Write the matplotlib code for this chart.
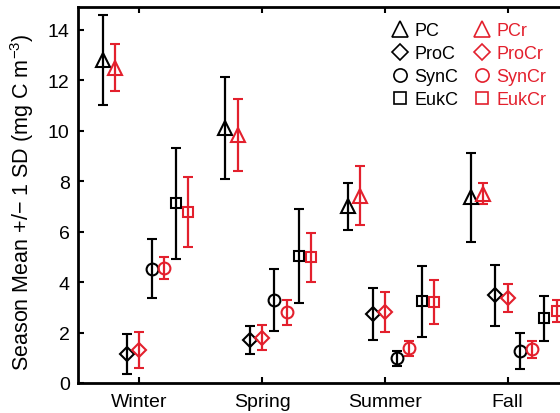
import numpy as np
import matplotlib
matplotlib.use('Agg')
import matplotlib.pyplot as plt
from matplotlib.lines import Line2D

plt.rcParams['font.family'] = ['Liberation Sans', 'DejaVu Sans']
plt.rcParams['mathtext.fontset'] = 'custom'
plt.rcParams['mathtext.rm'] = 'Liberation Sans'
plt.rcParams['mathtext.it'] = 'Liberation Sans'

seasons = ['Winter', 'Spring', 'Summer', 'Fall']

# season means and standard deviations (mg C m-3)
pc_mean = [12.8, 10.1, 7.0, 7.36]
pc_sd = [1.77, 2.02, 0.93, 1.76]
pcr_mean = [12.5, 9.84, 7.43, 7.5]
pcr_sd = [0.93, 1.43, 1.15, 0.42]

proc_mean = [1.15, 1.7, 2.75, 3.48]
proc_sd = [0.78, 0.56, 1.03, 1.21]
procr_mean = [1.3, 1.8, 2.8, 3.38]
procr_sd = [0.72, 0.48, 0.79, 0.55]

sync_mean = [4.53, 3.3, 0.98, 1.27]
sync_sd = [1.18, 1.22, 0.3, 0.73]
syncr_mean = [4.56, 2.8, 1.37, 1.33]
syncr_sd = [0.43, 0.5, 0.3, 0.35]

eukc_mean = [7.12, 5.04, 3.23, 2.57]
eukc_sd = [2.21, 1.85, 1.39, 0.89]
eukcr_mean = [6.78, 4.98, 3.22, 2.85]
eukcr_sd = [1.4, 0.96, 0.88, 0.42]

red = '#e3202d'
x = np.arange(1, 5)

# name, means, sds, x offset, marker, colour, marker size, legend marker size
series = [
    ('PC', pc_mean, pc_sd, -0.3, '^', 'k', 10, 11),
    ('PCr', pcr_mean, pcr_sd, -0.2, '^', red, 10, 11),
    ('ProC', proc_mean, proc_sd, -0.1, 'D', 'k', 7, 8),
    ('ProCr', procr_mean, procr_sd, 0.0, 'D', red, 7, 8),
    ('SynC', sync_mean, sync_sd, 0.1, 'o', 'k', 8.5, 9.5),
    ('SynCr', syncr_mean, syncr_sd, 0.2, 'o', red, 8.5, 9.5),
    ('EukC', eukc_mean, eukc_sd, 0.3, 's', 'k', 6.5, 8),
    ('EukCr', eukcr_mean, eukcr_sd, 0.4, 's', red, 6.5, 8),
]

fig = plt.figure(figsize=(5.6, 4.14), dpi=100)
ax = fig.add_axes([78 / 560, 1 - 384 / 414, 491 / 560, 376 / 414])

for name, m, s, off, mk, c, ms, lms in series:
    ax.errorbar(x + off, m, yerr=s, fmt=mk, color=c, mfc='none', mec=c,
                ms=ms, mew=1.5, elinewidth=1.6, capsize=3.5, capthick=1.6,
                clip_on=False)

ax.set_xlim(0.5, 4.5)
ax.set_ylim(0, 14.9)
ax.set_xticks(x)
ax.set_xticklabels(seasons)
ax.set_yticks(np.arange(0, 15, 2))
ax.tick_params(direction='in', length=4, width=1.5, labelsize=14, top=True)
ax.tick_params(axis='x', pad=7)
ax.tick_params(axis='y', pad=6)
for sp in ax.spines.values():
    sp.set_linewidth(2)
ax.set_ylabel('Season Mean +/\u2212 1 SD (mg C m$^{\u22123}$)', fontsize=15.5)
ax.yaxis.set_label_coords(-0.085, 0.484)

# legend: black entries on the left column, red on the right
order = series[0::2] + series[1::2]
handles = [Line2D([], [], ls='none', marker=mk, mfc='none', mec=c, ms=lms, mew=1.2)
           for name, m, s, off, mk, c, ms, lms in order]
labels = [item[0] for item in order]
leg = ax.legend(handles, labels, ncol=2, frameon=False, fontsize=13,
                loc='upper left', bbox_to_anchor=(382 / 560, 1 - 14 / 414),
                bbox_transform=fig.transFigure, handlelength=1.0,
                handletextpad=0.3, columnspacing=0.8, labelspacing=0.33,
                borderpad=0)
for txt, item in zip(leg.get_texts(), order):
    txt.set_color(item[5])

fig.savefig('out.png', dpi=100)
